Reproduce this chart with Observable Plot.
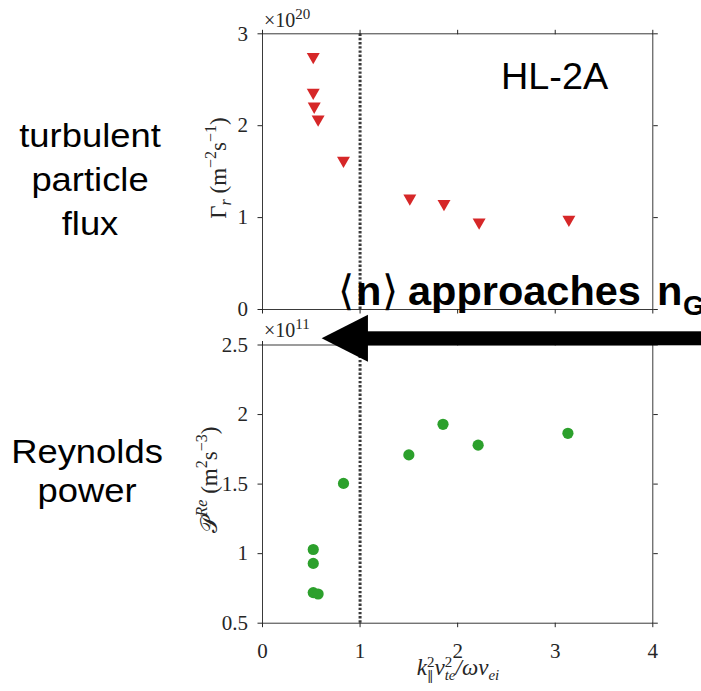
<!DOCTYPE html>
<html>
<head>
<meta charset="utf-8">
<script src="https://cdn.jsdelivr.net/npm/d3@7"></script>
<script src="https://cdn.jsdelivr.net/npm/@observablehq/plot@0.6"></script>
<style>
  html, body { margin: 0; padding: 0; background: #fff; overflow: hidden; }
  #fig { position: relative; width: 701px; height: 691px; overflow: hidden; background: #fff; }
  #fig > svg { position: absolute; left: 0; }
</style>
</head>
<body>
<div id="fig"></div>
<script>
// k_par^2 v_te^2 / (omega nu_ei) for each discharge
const fluxX = [0.52, 0.52, 0.53, 0.57, 0.83, 1.51, 1.86, 2.22, 3.14];
// turbulent particle flux Gamma_r, units of 1e20 m^-2 s^-1
const fluxY = [2.73, 2.34, 2.19, 2.05, 1.60, 1.19, 1.13, 0.93, 0.96];

const reynX = [0.52, 0.52, 0.52, 0.57, 0.83, 1.50, 1.85, 2.21, 3.13];
// Reynolds power, units of 1e11 m^2 s^-3
const reynY = [1.03, 0.93, 0.72, 0.71, 1.505, 1.71, 1.93, 1.78, 1.865];

const xTicks = [0, 1, 2, 3, 4];
const fluxTicks = [0, 1, 2, 3];
const reynTicks = [0.5, 1, 1.5, 2, 2.5];
const threshold = [1];

const ink = "#262626";
const W = 701;

// downward-pointing triangle marker
const triangleDown = {
  draw(ctx, size) {
    const r = Math.sqrt(size / Math.PI);
    const w = r * 2.7, h = r * 2.35;
    ctx.moveTo(-w / 2, -h / 2);
    ctx.lineTo(w / 2, -h / 2);
    ctx.lineTo(0, h / 2);
    ctx.closePath();
  }
};

// MATLAB-style boxed axes: outward ticks on all four sides
function boxAxes(yTicks, yFormat, xLabels) {
  return [
    Plot.frame({stroke: "#3a3a3a", strokeWidth: 1}),
    Plot.axisY({ticks: yTicks, anchor: "left", tickSize: 4.5, tickPadding: 10, tickFormat: yFormat, label: null, color: ink}),
    Plot.axisY({ticks: yTicks, anchor: "right", tickSize: 4.5, tickFormat: () => "", label: null, color: ink}),
    Plot.axisX({ticks: xTicks, anchor: "bottom", tickSize: 4.5, tickPadding: 15, tickFormat: xLabels ? (d => String(d)) : () => "", label: null, color: ink}),
    Plot.axisX({ticks: xTicks, anchor: "top", tickSize: 4.5, tickFormat: () => "", label: null, color: ink})
  ];
}

const plotStyle = {fontFamily: "Liberation Serif", fontSize: "21px", background: "transparent", overflow: "visible"};
const dotted = {stroke: "#3a3a3a", strokeWidth: 3, strokeDasharray: "2.4,1.8"};

// upper panel: particle flux
const topH = 330;
const fluxPanel = Plot.plot({
  width: W, height: topH,
  marginLeft: 262, marginRight: 48.7, marginTop: 33.3, marginBottom: topH - 309,
  style: plotStyle,
  x: {domain: [0, 4], label: null},
  y: {domain: [0, 3], label: null},
  marks: [
    Plot.ruleX(threshold, {y1: 0, y2: 3, ...dotted}),
    ...boxAxes(fluxTicks, d => String(d), false),
    Plot.dot(fluxX.map((x, i) => ({x, y: fluxY[i]})), {x: "x", y: "y", symbol: triangleDown, r: 4.8, fill: "#d62728", stroke: "none"})
  ]
});
fluxPanel.style.top = "0px";

// lower panel: Reynolds power
const botTop = 300, botH = 391;
const reynPanel = Plot.plot({
  width: W, height: botH,
  marginLeft: 262, marginRight: 48.7, marginTop: 344.5 - botTop, marginBottom: botH - (622.7 - botTop),
  style: plotStyle,
  x: {domain: [0, 4], label: null},
  y: {domain: [0.5, 2.5], label: null},
  marks: [
    Plot.ruleX(threshold, {y1: 0.5, y2: 2.5, ...dotted}),
    ...boxAxes(reynTicks, d => String(d), true),
    Plot.dot(reynX.map((x, i) => ({x, y: reynY[i]})), {x: "x", y: "y", r: 5.6, fill: "#2ca02c", stroke: "none"}),
    // arrow pointing toward lower collisionality (density approaching the Greenwald limit)
    Plot.rect([{x1: 1.0, x2: 4.8, y1: 2.5446 - 0.0503, y2: 2.5446 + 0.0503}], {x1: "x1", x2: "x2", y1: "y1", y2: "y2", fill: "black"}),
    Plot.area([{x: 0.611, lo: 2.5446, hi: 2.5446}, {x: 1.086, lo: 2.5446 - 0.169, hi: 2.5446 + 0.169}],
      {x1: "x", y1: "lo", y2: "hi", fill: "black", curve: "linear"})
  ]
});
reynPanel.style.top = botTop + "px";

const fig = document.getElementById("fig");
fig.appendChild(fluxPanel);
fig.appendChild(reynPanel);

// text layer: panel names, axis titles, exponents and annotation
const ov = d3.create("svg").attr("width", W).attr("height", 691).style("top", "0px");

function label(g, x, y, opts, parts) {
  const t = g.append("text")
    .attr("x", x).attr("y", y)
    .attr("font-family", opts.family || "Liberation Sans")
    .attr("font-size", opts.size)
    .attr("font-weight", opts.weight || "normal")
    .attr("text-anchor", opts.anchor || "start")
    .attr("fill", opts.fill || "black");
  if (opts.transform) t.attr("transform", opts.transform);
  for (const p of parts) {
    const s = t.append("tspan").text(p.t);
    if (p.size) s.attr("font-size", p.size);
    if (p.italic) s.attr("font-style", "italic");
    if (p.weight) s.attr("font-weight", p.weight);
    if (p.family) s.attr("font-family", p.family);
    if (p.dy) s.attr("dy", p.dy);
    if (p.dx) s.attr("dx", p.dx);
    if (p.x != null) s.attr("x", p.x);
  }
  return t;
}

// left-hand panel names
const names = ov.append("g");
[["turbulent", 147], ["particle", 191.5], ["flux", 235]].forEach(([s, y]) =>
  label(names, 0, y, {size: 34, anchor: "middle", transform: "translate(90,0) scale(1.07,1)"}, [{t: s}]));
[["Reynolds", 463], ["power", 502]].forEach(([s, y]) =>
  label(names, 0, y, {size: 34, anchor: "middle", transform: "translate(87,0) scale(1.07,1)"}, [{t: s}]));

// device tag
label(ov, 0, 89, {size: 36, transform: "translate(501,0) scale(1.05,1)"}, [{t: "HL-2A"}]);

// axis multipliers
label(ov, 264, 27, {family: "Liberation Serif", size: 20, fill: ink}, [{t: "×10"}, {t: "20", size: 15, dy: -8}]);
label(ov, 264, 337, {family: "Liberation Serif", size: 20, fill: ink}, [{t: "×10"}, {t: "11", size: 15, dy: -8}]);

// y-axis titles
label(ov, 0, 0, {family: "Liberation Serif", size: 23, anchor: "middle", fill: ink, transform: "translate(226,168) rotate(-90)"}, [
  {t: "Γ"}, {t: "r", italic: true, size: 16, dy: 5}, {t: " (m", dy: -5}, {t: "−2", size: 16, dy: -10}, {t: "s", dy: 10}, {t: "−1", size: 16, dy: -10}, {t: ")", dy: 10}
]);
label(ov, 0, 0, {family: "Liberation Serif", size: 23, anchor: "middle", fill: ink, transform: "translate(217,480) rotate(-90)"}, [
  {t: "𝒫", family: "DejaVu Serif"}, {t: "Re", italic: true, size: 16, dy: -10}, {t: " (m", dy: 10}, {t: "2", size: 16, dy: -10}, {t: "s", dy: 10}, {t: "−3", size: 16, dy: -10}, {t: ")", dy: 10}
]);

// x-axis title
label(ov, 458, 675, {family: "Liberation Serif", size: 23, anchor: "middle", fill: ink}, [
  {t: "k", italic: true}, {t: "2", size: 15, dy: -8}, {t: "‖", family: "DejaVu Serif", size: 13, dx: -7.5, dy: 13},
  {t: "v", italic: true, dx: 1, dy: -5}, {t: "2", size: 15, dy: -8}, {t: "te", italic: true, size: 15, dx: -7.5, dy: 13},
  {t: "/ω", italic: true, dy: -5}, {t: "ν", italic: true}, {t: "ei", italic: true, size: 15, dy: 5}
]);

// annotation above the arrow
label(ov, 341, 305, {size: 41.5, weight: "bold"}, [
  {t: "⟨", weight: "normal", family: "DejaVu Sans", x: 338},
  {t: "n", x: 356},
  {t: "⟩", weight: "normal", family: "DejaVu Sans", x: 382},
  {t: "approaches", x: 408},
  {t: "n", x: 657},
  {t: "G", size: 28, x: 683, dy: 10}
]);

fig.appendChild(ov.node());
</script>
</body>
</html>
